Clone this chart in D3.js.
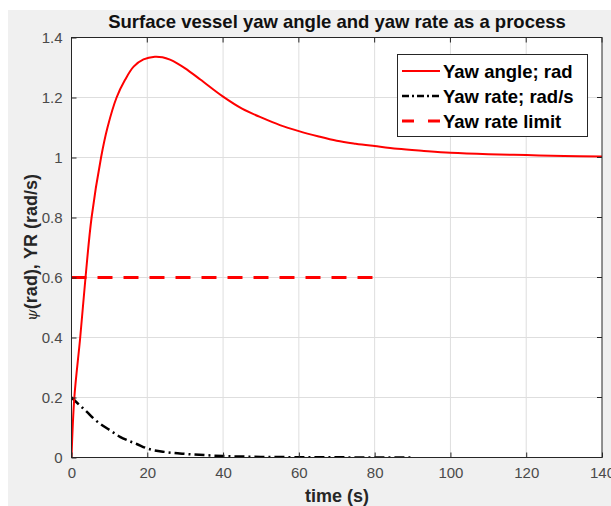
<!DOCTYPE html>
<html>
<head>
<meta charset="utf-8">
<script src="https://cdn.jsdelivr.net/npm/d3@7"></script>
<style>
  html, body { margin: 0; padding: 0; background: #fff; }
  svg { display: block; font-family: "Liberation Sans", Arial, sans-serif; }
</style>
</head>
<body>
<svg id="chart" width="611" height="506"></svg>
<script>
// Yaw angle (rad)
const yawT = [0, 0.75, 2.3, 3.7, 5.3, 7.8, 9.5, 11.9, 14.1, 16.4, 19, 22, 24, 26, 28, 30, 34, 40, 45, 50.5, 55, 60, 65, 70, 75, 80, 86, 93, 100, 110, 120, 130, 140];
const yawAngle = [0, 0.2, 0.4, 0.6, 0.8, 1.0, 1.1, 1.2, 1.258, 1.303, 1.327, 1.336, 1.334, 1.326, 1.313, 1.297, 1.26, 1.203, 1.163, 1.131, 1.108, 1.088, 1.071, 1.056, 1.046, 1.038, 1.029, 1.022, 1.016, 1.011, 1.008, 1.005, 1.003];

// Yaw rate (rad/s)
const rateT = [0, 2, 4, 6, 8.4, 10, 12.8, 15, 17.2, 20, 25, 30, 35, 40, 50, 60, 70, 80, 90];
const yawRate = [0.2, 0.176, 0.153, 0.128, 0.105, 0.092, 0.069, 0.056, 0.045, 0.03, 0.018, 0.012, 0.008, 0.005, 0.002, 0.001, 0.0005, 0.0002, 0];

// Yaw rate limit
const limitT = [0, 80];
const limitVal = [0.6, 0.6];

const xTicks = [0, 20, 40, 60, 80, 100, 120, 140];
const yTicks = [0, 0.2, 0.4, 0.6, 0.8, 1, 1.2, 1.4];

const legendLabels = ['Yaw angle; rad', 'Yaw rate; rad/s', 'Yaw rate limit'];

const svg = d3.select('#chart');

// grey figure background
svg.append('rect')
  .attr('x', 8).attr('y', 10)
  .attr('width', 603).attr('height', 496)
  .attr('fill', '#f0f0f0');

const box = { left: 71.5, right: 602, top: 37.5, bottom: 457.5 };

const x = d3.scaleLinear().domain([0, 140]).range([box.left, box.right]);
const y = d3.scaleLinear().domain([0, 1.4]).range([box.bottom, box.top]);

// plot area
svg.append('rect')
  .attr('x', box.left).attr('y', box.top)
  .attr('width', box.right - box.left).attr('height', box.bottom - box.top)
  .attr('fill', '#fff');

// grid
const grid = svg.append('g').attr('stroke', '#dedede').attr('stroke-width', 1);
grid.selectAll('.gx')
  .data(xTicks.slice(1, -1))
  .enter().append('line')
  .attr('x1', d => x(d)).attr('x2', d => x(d))
  .attr('y1', box.top).attr('y2', box.bottom);
grid.selectAll('.gy')
  .data(yTicks.slice(1, -1))
  .enter().append('line')
  .attr('x1', box.left).attr('x2', box.right)
  .attr('y1', d => y(d)).attr('y2', d => y(d));

// Lines
svg.append('clipPath').attr('id', 'clip')
  .append('rect')
  .attr('x', box.left).attr('y', box.top - 2)
  .attr('width', box.right - box.left).attr('height', box.bottom - box.top + 2);

const plot = svg.append('g').attr('clip-path', 'url(#clip)');

const lineAngle = d3.line()
  .x((d, i) => x(yawT[i]))
  .y(d => y(d))
  .curve(d3.curveCatmullRom.alpha(0.5));

const lineRate = d3.line()
  .x((d, i) => x(rateT[i]))
  .y(d => y(d))
  .curve(d3.curveMonotoneX);

const lineLimit = d3.line()
  .x((d, i) => x(limitT[i]))
  .y(d => y(d));

plot.append('path')
  .datum(limitVal)
  .attr('fill', 'none')
  .attr('stroke', '#ff0000')
  .attr('stroke-width', 3)
  .attr('stroke-dasharray', '15,11')
  .attr('d', lineLimit);

plot.append('path')
  .datum(yawRate)
  .attr('fill', 'none')
  .attr('stroke', '#000')
  .attr('stroke-width', 2.5)
  .attr('stroke-dasharray', '10,4,2,4')
  .attr('d', lineRate);

plot.append('path')
  .datum(yawAngle)
  .attr('fill', 'none')
  .attr('stroke', '#ff0000')
  .attr('stroke-width', 2)
  .attr('d', lineAngle);

// Axes
const xAxis = svg.append('g')
  .attr('transform', `translate(0, ${box.bottom})`)
  .call(d3.axisBottom(x).tickValues(xTicks).tickSizeInner(-5).tickSizeOuter(0).tickPadding(10));
const yAxis = svg.append('g')
  .attr('transform', `translate(${box.left}, 0)`)
  .call(d3.axisLeft(y).tickValues(yTicks).tickFormat(d3.format('')).tickSizeInner(-5).tickSizeOuter(0).tickPadding(9));

[xAxis, yAxis].forEach(a => {
  a.select('.domain').remove();
  a.selectAll('line').attr('stroke', '#262626');
  a.selectAll('text')
    .attr('fill', '#4a4a4a')
    .style('font-size', '15px')
    .style('font-family', '"Liberation Sans", Arial, sans-serif');
});

// top/right ticks
svg.append('g').selectAll('line')
  .data(xTicks)
  .enter().append('line')
  .attr('x1', d => x(d)).attr('x2', d => x(d))
  .attr('y1', box.top).attr('y2', box.top + 5)
  .attr('stroke', '#262626');
svg.append('g').selectAll('line')
  .data(yTicks)
  .enter().append('line')
  .attr('x1', box.right).attr('x2', box.right - 5)
  .attr('y1', d => y(d)).attr('y2', d => y(d))
  .attr('stroke', '#262626');

// box
svg.append('rect')
  .attr('x', box.left).attr('y', box.top)
  .attr('width', box.right - box.left).attr('height', box.bottom - box.top)
  .attr('fill', 'none')
  .attr('stroke', '#262626')
  .attr('stroke-width', 1);

// Title
svg.append('text')
  .attr('x', 337)
  .attr('y', 28)
  .attr('text-anchor', 'middle')
  .style('font-size', '18.5px')
  .style('font-weight', 'bold')
  .attr('fill', '#111')
  .text('Surface vessel yaw angle and yaw rate as a process');

// Axis labels
svg.append('text')
  .attr('x', 337)
  .attr('y', 501.5)
  .attr('text-anchor', 'middle')
  .style('font-size', '18px')
  .style('font-weight', 'bold')
  .attr('fill', '#262626')
  .text('time (s)');

const yl = svg.append('text')
  .attr('transform', `translate(37, ${(box.top + box.bottom) / 2}) rotate(-90)`)
  .attr('text-anchor', 'middle')
  .style('font-size', '18px')
  .style('font-weight', 'bold')
  .attr('fill', '#262626');
yl.append('tspan')
  .style('font-family', '"DejaVu Serif", serif')
  .style('font-style', 'italic')
  .style('font-weight', 'normal')
  .style('font-size', '15px')
  .text('ψ');
yl.append('tspan').text('(rad), YR (rad/s)');

// Legend
const lg = svg.append('g');
lg.append('rect')
  .attr('x', 397.5).attr('y', 54.5)
  .attr('width', 190).attr('height', 82)
  .attr('fill', '#fff')
  .attr('stroke', '#262626')
  .attr('stroke-width', 1);

const legendStyles = [
  { stroke: '#ff0000', width: 2, dash: null },
  { stroke: '#000', width: 2.5, dash: '7,3,2,3' },
  { stroke: '#ff0000', width: 3, dash: '12,14' }
];
const rowY = [71, 96, 121];

legendLabels.forEach((lab, i) => {
  lg.append('line')
    .attr('x1', 402).attr('x2', 440)
    .attr('y1', rowY[i]).attr('y2', rowY[i])
    .attr('stroke', legendStyles[i].stroke)
    .attr('stroke-width', legendStyles[i].width)
    .attr('stroke-dasharray', legendStyles[i].dash);
  lg.append('text')
    .attr('x', 443)
    .attr('y', rowY[i] + 7)
    .style('font-size', '18.5px')
    .style('font-weight', 'bold')
    .attr('fill', '#000')
    .text(lab);
});
</script>
</body>
</html>
